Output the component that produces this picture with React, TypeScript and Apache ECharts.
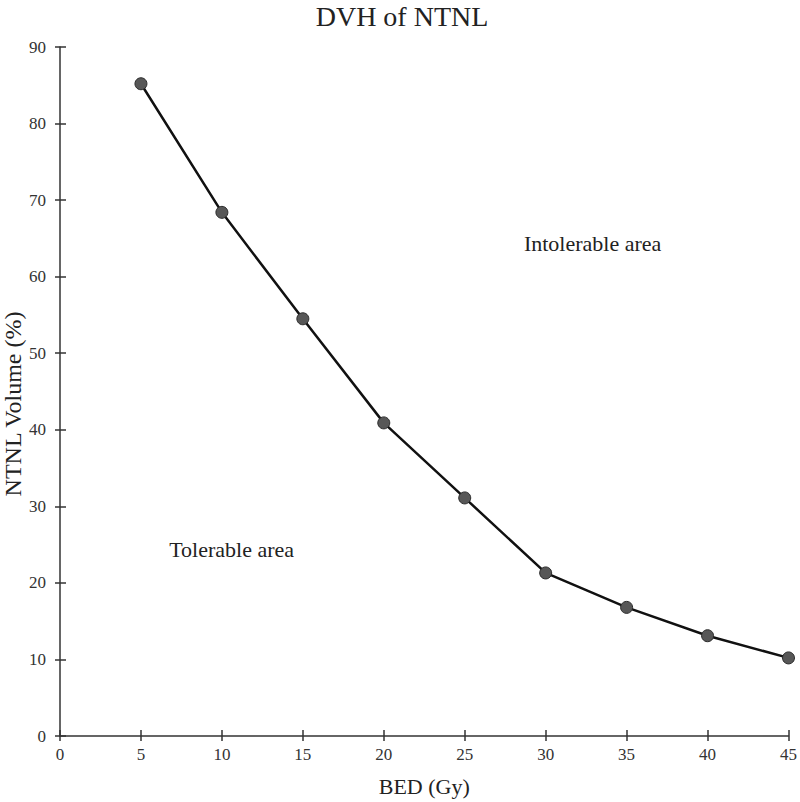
import React, { useEffect, useRef } from "react";
import * as echarts from "echarts";

const titleText = "DVH of NTNL";
const xAxisName = "BED (Gy)";
const yAxisName = "NTNL Volume (%)";
const bedValues = [5, 10, 15, 20, 25, 30, 35, 40, 45];
const volumeValues = [85.2, 68.4, 54.5, 40.9, 31.1, 21.3, 16.8, 13.1, 10.2];
const annotationNames = ["Tolerable area", "Intolerable area"];
const annotationCoords = [
  [10.6, 24.4],
  [32.9, 64.3],
];

const FONT = "'Liberation Serif', 'Times New Roman', 'DejaVu Serif', serif";

export default function App() {
  const ref = useRef<HTMLDivElement>(null);
  useEffect(() => {
    if (!ref.current) return;
    const chart = echarts.init(ref.current, null, { renderer: "svg" });
    const axisLine = { show: true, lineStyle: { color: "#333", width: 1.5 } };
    const baseX = { type: "value", min: 0, max: 45, interval: 5, splitLine: { show: false } };
    const baseY = { type: "value", min: 0, max: 90, interval: 10, splitLine: { show: false } };
    chart.setOption({
      animation: false,
      backgroundColor: "#fff",
      textStyle: { fontFamily: FONT },
      title: {
        text: titleText,
        left: 397,
        top: -3,
        textAlign: "center",
        textStyle: { fontFamily: FONT, fontSize: 28, fontWeight: "normal", color: "#222" },
      },
      grid: { left: 60, right: 8, top: 47, bottom: 62, containLabel: false },
      xAxis: [
        {
          ...baseX,
          position: "bottom",
          name: xAxisName,
          nameLocation: "middle",
          nameGap: 39,
          nameTextStyle: { fontFamily: FONT, fontSize: 22, color: "#222" },
          axisLine,
          axisTick: { show: true, inside: false, length: 5, lineStyle: { color: "#333", width: 1.5 } },
          axisLabel: { fontFamily: FONT, fontSize: 17, color: "#333", margin: 10 },
        },
        {
          ...baseX,
          position: "bottom",
          offset: 0,
          axisLine: { show: false },
          axisTick: { show: true, inside: true, length: 6, lineStyle: { color: "#333", width: 1.5 } },
          axisLabel: { show: false },
        },
      ],
      yAxis: [
        {
          ...baseY,
          position: "left",
          axisLine,
          axisTick: { show: true, inside: false, length: 5, lineStyle: { color: "#333", width: 1.5 } },
          axisLabel: { fontFamily: FONT, fontSize: 17, color: "#333", margin: 14 },
        },
        {
          ...baseY,
          position: "left",
          offset: 0,
          axisLine: { show: false },
          axisTick: { show: true, inside: true, length: 6, lineStyle: { color: "#333", width: 1.5 } },
          axisLabel: { show: false },
        },
      ],
      graphic: [
        {
          type: "text",
          x: 13,
          y: 404,
          rotation: Math.PI / 2,
          style: {
            text: yAxisName,
            fontFamily: FONT,
            fontSize: 24,
            fill: "#222",
            textAlign: "center",
            textVerticalAlign: "middle",
          },
        },
      ],
      series: [
        {
          type: "line",
          xAxisIndex: 0,
          yAxisIndex: 0,
          data: bedValues.map((x, i) => [x, volumeValues[i]]),
          symbol: "circle",
          symbolSize: 12,
          lineStyle: { color: "#111", width: 2.5 },
          itemStyle: { color: "#575757", borderColor: "#2a2a2a", borderWidth: 1 },
          markPoint: {
            symbol: "circle",
            symbolSize: 0,
            label: {
              show: true,
              position: "inside",
              formatter: (p: any) => p.name,
              fontFamily: FONT,
              fontSize: 22,
              color: "#222",
            },
            data: annotationNames.map((n, i) => ({ name: n, coord: annotationCoords[i] })),
          },
        },
      ],
    });
    return () => chart.dispose();
  }, []);
  return <div ref={ref} style={{ width: 800, height: 802, position: "absolute", left: 0, top: 0 }} />;
}
